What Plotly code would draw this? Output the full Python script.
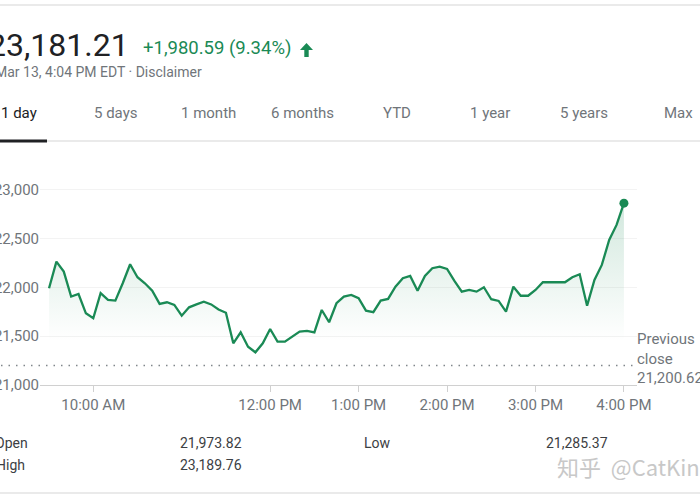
import plotly.graph_objects as go

# ---------------- data ----------------
DAY = "2020-03-13 "
times = ["09:30", "09:35", "09:40", "09:45", "09:50", "09:55",
         "10:00", "10:05", "10:10", "10:15", "10:20", "10:25", "10:30", "10:35", "10:40", "10:45", "10:50", "10:55",
         "11:00", "11:05", "11:10", "11:15", "11:20", "11:25", "11:30", "11:35", "11:40", "11:45", "11:50", "11:55",
         "12:00", "12:05", "12:10", "12:15", "12:20", "12:25", "12:30", "12:35", "12:40", "12:45", "12:50", "12:55",
         "13:00", "13:05", "13:10", "13:15", "13:20", "13:25", "13:30", "13:35", "13:40", "13:45", "13:50", "13:55",
         "14:00", "14:05", "14:10", "14:15", "14:20", "14:25", "14:30", "14:35", "14:40", "14:45", "14:50", "14:55",
         "15:00", "15:05", "15:10", "15:15", "15:20", "15:25", "15:30", "15:35", "15:40", "15:45", "15:50", "15:55",
         "16:00"]
values = [21992, 22265, 22162, 21906, 21933, 21735,
          21684, 21941, 21872, 21865, 22043, 22238, 22105, 22043, 21967, 21831, 21848, 21821,
          21710, 21796, 21826, 21854, 21826, 21774, 21741, 21427, 21540, 21393, 21335, 21427,
          21574, 21444, 21444, 21495, 21547, 21554, 21540, 21769, 21643, 21838, 21906, 21923,
          21889, 21762, 21746, 21865, 21882, 22008, 22094, 22118, 21967, 22118, 22197, 22213,
          22190, 22067, 21957, 21974, 21957, 22002, 21879, 21862, 21752, 22008, 21915, 21915,
          21974, 22053, 22053, 22049, 22053, 22105, 22135, 21813, 22077, 22231, 22487, 22641,
          22864]
previous_close = 21200.62
y_tickvals = [21000, 21500, 22000, 22500, 23000]
y_ticktext = ["21,000", "21,500", "22,000", "22,500", "23,000"]
x_tickvals = ["10:00", "12:00", "13:00", "14:00", "15:00", "16:00"]
x_ticktext = ["10:00 AM", "12:00 PM", "1:00 PM", "2:00 PM", "3:00 PM", "4:00 PM"]
price_text = "23,181.21"
change_text = "+1,980.59 (9.34%)"
stamp_text = "Mar 13, 4:04 PM EDT · Disclaimer"
tabs = ["1 day", "5 days", "1 month", "6 months", "YTD", "1 year", "5 years", "Max"]
stat_labels = ["Open", "High", "Low"]
stat_values = ["21,973.82", "23,189.76", "21,285.37"]
watermark = "知乎\u00a0 @CatKing"

# ---------------- styling ----------------
GREEN = "#1a8a55"
GRAY = "#70757a"
DARK = "#202124"
FONT = "Roboto, Arial, sans-serif"

W, H = 700, 500
L, R, T, B = 40, 63, 185, 115
PW, PH = W - L - R, H - T - B


def px(x):
    return (x - L) / PW


def py(y):
    return (H - B - y) / PH


xs = [DAY + t for t in times]

fig = go.Figure()
fig.add_trace(go.Scatter(
    x=xs, y=values, mode="lines",
    line=dict(color=GREEN, width=2.3),
    fill="tozeroy",
    fillgradient=dict(type="vertical",
                      colorscale=[[0, "rgba(26,138,85,0)"], [1, "rgba(26,138,85,0.2)"]],
                      start=21450, stop=22900),
    hoverinfo="skip", showlegend=False,
))
fig.add_trace(go.Scatter(
    x=[xs[-1]], y=[values[-1]], mode="markers",
    marker=dict(color=GREEN, size=9),
    hoverinfo="skip", showlegend=False,
))

shapes = []
# previous close dotted line
shapes.append(dict(type="line", xref="paper", yref="y", x0=px(1), x1=px(637),
                   y0=previous_close, y1=previous_close,
                   line=dict(color="#80868b", width=1.5, dash="1.5px,6px")))
# top separator
shapes.append(dict(type="line", xref="paper", yref="paper", x0=px(0), x1=px(700),
                   y0=py(5), y1=py(5), line=dict(color="#e3e3e3", width=1.5)))
# tab separator
shapes.append(dict(type="line", xref="paper", yref="paper", x0=px(0), x1=px(700),
                   y0=py(141), y1=py(141), line=dict(color="#e3e3e3", width=1.5)))
# selected tab underline
shapes.append(dict(type="line", xref="paper", yref="paper", x0=px(0), x1=px(47),
                   y0=py(141), y1=py(141), line=dict(color="#202124", width=3)))
# bottom separator
shapes.append(dict(type="line", xref="paper", yref="paper", x0=px(0), x1=px(700),
                   y0=py(493), y1=py(493), line=dict(color="#e3e3e3", width=1.5)))
# up arrow
arrow_pts = [(306.5, 43), (313, 50), (308.7, 50), (308.7, 57), (304.3, 57), (304.3, 50), (300, 50)]
path = "M " + " L ".join(f"{px(a):.5f},{py(b):.5f}" for a, b in arrow_pts) + " Z"
shapes.append(dict(type="path", xref="paper", yref="paper", path=path,
                   fillcolor=GREEN, line=dict(width=0)))

ann = []


def text(x, y, s, size, color, anchor="left", family=FONT):
    ann.append(dict(x=px(x), y=py(y), xref="paper", yref="paper", text=s, showarrow=False,
                    xanchor=anchor, yanchor="middle", align="left",
                    font=dict(family=family, size=size, color=color)))


text(131, 45, price_text, 32, DARK, "right")
text(141, 48, change_text, 18.5, GREEN, "left")
text(204, 72, stamp_text, 14, GRAY, "right")

tab_x = [-1, 92, 179, 269, 381, 468, 558, 662]
for i, (t, tx) in enumerate(zip(tabs, tab_x)):
    text(tx, 113, t, 15, DARK if i == 0 else GRAY, "left")

text(635, 358, "Previous<br>close<br>" + f"{previous_close:,.2f}", 15, GRAY, "left")

text(30, 443, stat_labels[0], 14, "#3c4043", "right")
text(27, 465, stat_labels[1], 14, "#3c4043", "right")
text(362, 443, stat_labels[2], 14, "#3c4043", "left")
text(178, 443, stat_values[0], 14, "#3c4043", "left")
text(178, 465, stat_values[1], 14, "#3c4043", "left")
text(544, 443, stat_values[2], 14, "#3c4043", "left")
text(555, 466, watermark, 22, "#c8c8c8", "left",
     family="Noto Sans CJK SC, Roboto, sans-serif")

fig.update_layout(
    width=W, height=H,
    margin=dict(l=L, r=R, t=T, b=B, autoexpand=False),
    paper_bgcolor="white", plot_bgcolor="white",
    shapes=shapes, annotations=ann,
    font=dict(family=FONT, size=15, color=GRAY),
    xaxis=dict(
        type="date",
        range=[DAY + "09:23:52", DAY + "16:08:52"],
        tickvals=[DAY + t for t in x_tickvals], ticktext=x_ticktext,
        showgrid=False, showline=True, linecolor="#d0d0d0", linewidth=1,
        ticks="outside", ticklen=6, tickcolor="#d0d0d0",
        tickfont=dict(size=15, color=GRAY), zeroline=False, automargin=False,
    ),
    yaxis=dict(
        range=[21000, 23050],
        tickvals=y_tickvals, ticktext=y_ticktext,
        showgrid=True, gridcolor="#f3f3f3", gridwidth=1,
        zeroline=False, showline=False, ticks="",
        tickfont=dict(size=15, color=GRAY), automargin=False,
    ),
)

fig.write_html(
    "out.html",
    config={"displayModeBar": False},
    post_script="document.body.style.margin='0';document.body.style.overflow='hidden';",
)
